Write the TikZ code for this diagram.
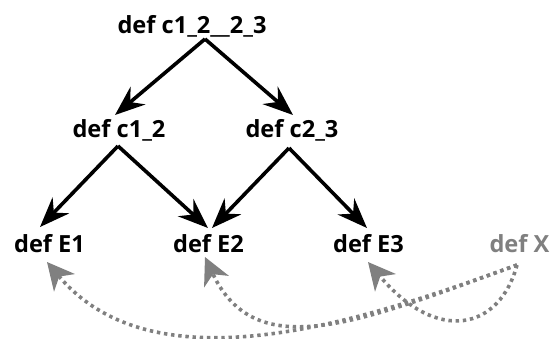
\documentclass[tikz,border=0pt]{standalone}
\usepackage{fontspec}
\setmainfont{Open Sans}
\usetikzlibrary{arrows.meta,calc}
\definecolor{gX}{HTML}{808080}
\tikzset{
  lbl/.style={font=\fontsize{23.6}{28}\selectfont\bfseries, inner sep=0pt, anchor=base},
  arr/.style={line width=3.6pt, -{Stealth[length=30pt,width=23pt,inset=10pt]}},
  garr/.style={gX, line width=3.6pt, dash pattern=on 3.4pt off 3.8pt,
    -{Stealth[length=27pt,width=27pt,inset=8pt]}}
}
\begin{document}
\begin{tikzpicture}[x=1pt,y=1pt]
\useasboundingbox (0,0) rectangle (552,-338);
\node[lbl] (top) at (192,-33) {def c1\_2\_\_2\_3};
\node[lbl] (c12) at (119,-137) {def c1\_2};
\node[lbl] (c23) at (292,-137) {def c2\_3};
\node[lbl] (E1) at (49.5,-252) {def E1};
\node[lbl] (E2) at (208.5,-252) {def E2};
\node[lbl] (E3) at (368.5,-252) {def E3};
\node[lbl, text=gX] (X) at (519.5,-252) {def X};

\draw[arr] ($(top.base)+(13,-6)$) -- ($(c12.base)+(-4,22)$);
\draw[arr] ($(top.base)+(13,-6)$) -- ($(c23.base)+(1,22)$);
\draw[arr] ($(c12.base)+(-1,-9)$) -- ($(E1.base)+(-9.5,25)$);
\draw[arr] ($(c12.base)+(-1,-9)$) -- ($(E2.base)+(-0.5,24)$);
\draw[arr] ($(c23.base)+(-3,-11)$) -- ($(E2.base)+(3.5,24)$);
\draw[arr] ($(c23.base)+(-3,-11)$) -- ($(E3.base)+(-1.5,24)$);

\draw[garr] ($(X.base)+(-2.5,-13)$) to[out=200,in=-50,out distance=167pt,in distance=167pt] ($(E1.base)+(-2.5,-10)$);
\draw[garr] ($(X.base)+(-2.5,-13)$) to[out=200,in=-65,out distance=167pt,in distance=120pt] ($(E2.base)+(-3.5,-5)$);
\draw[garr] ($(X.base)+(-2.5,-13)$) to[out=255,in=-50,out distance=67pt,in distance=108pt] ($(E3.base)+(-0.5,-10)$);
\end{tikzpicture}
\end{document}
